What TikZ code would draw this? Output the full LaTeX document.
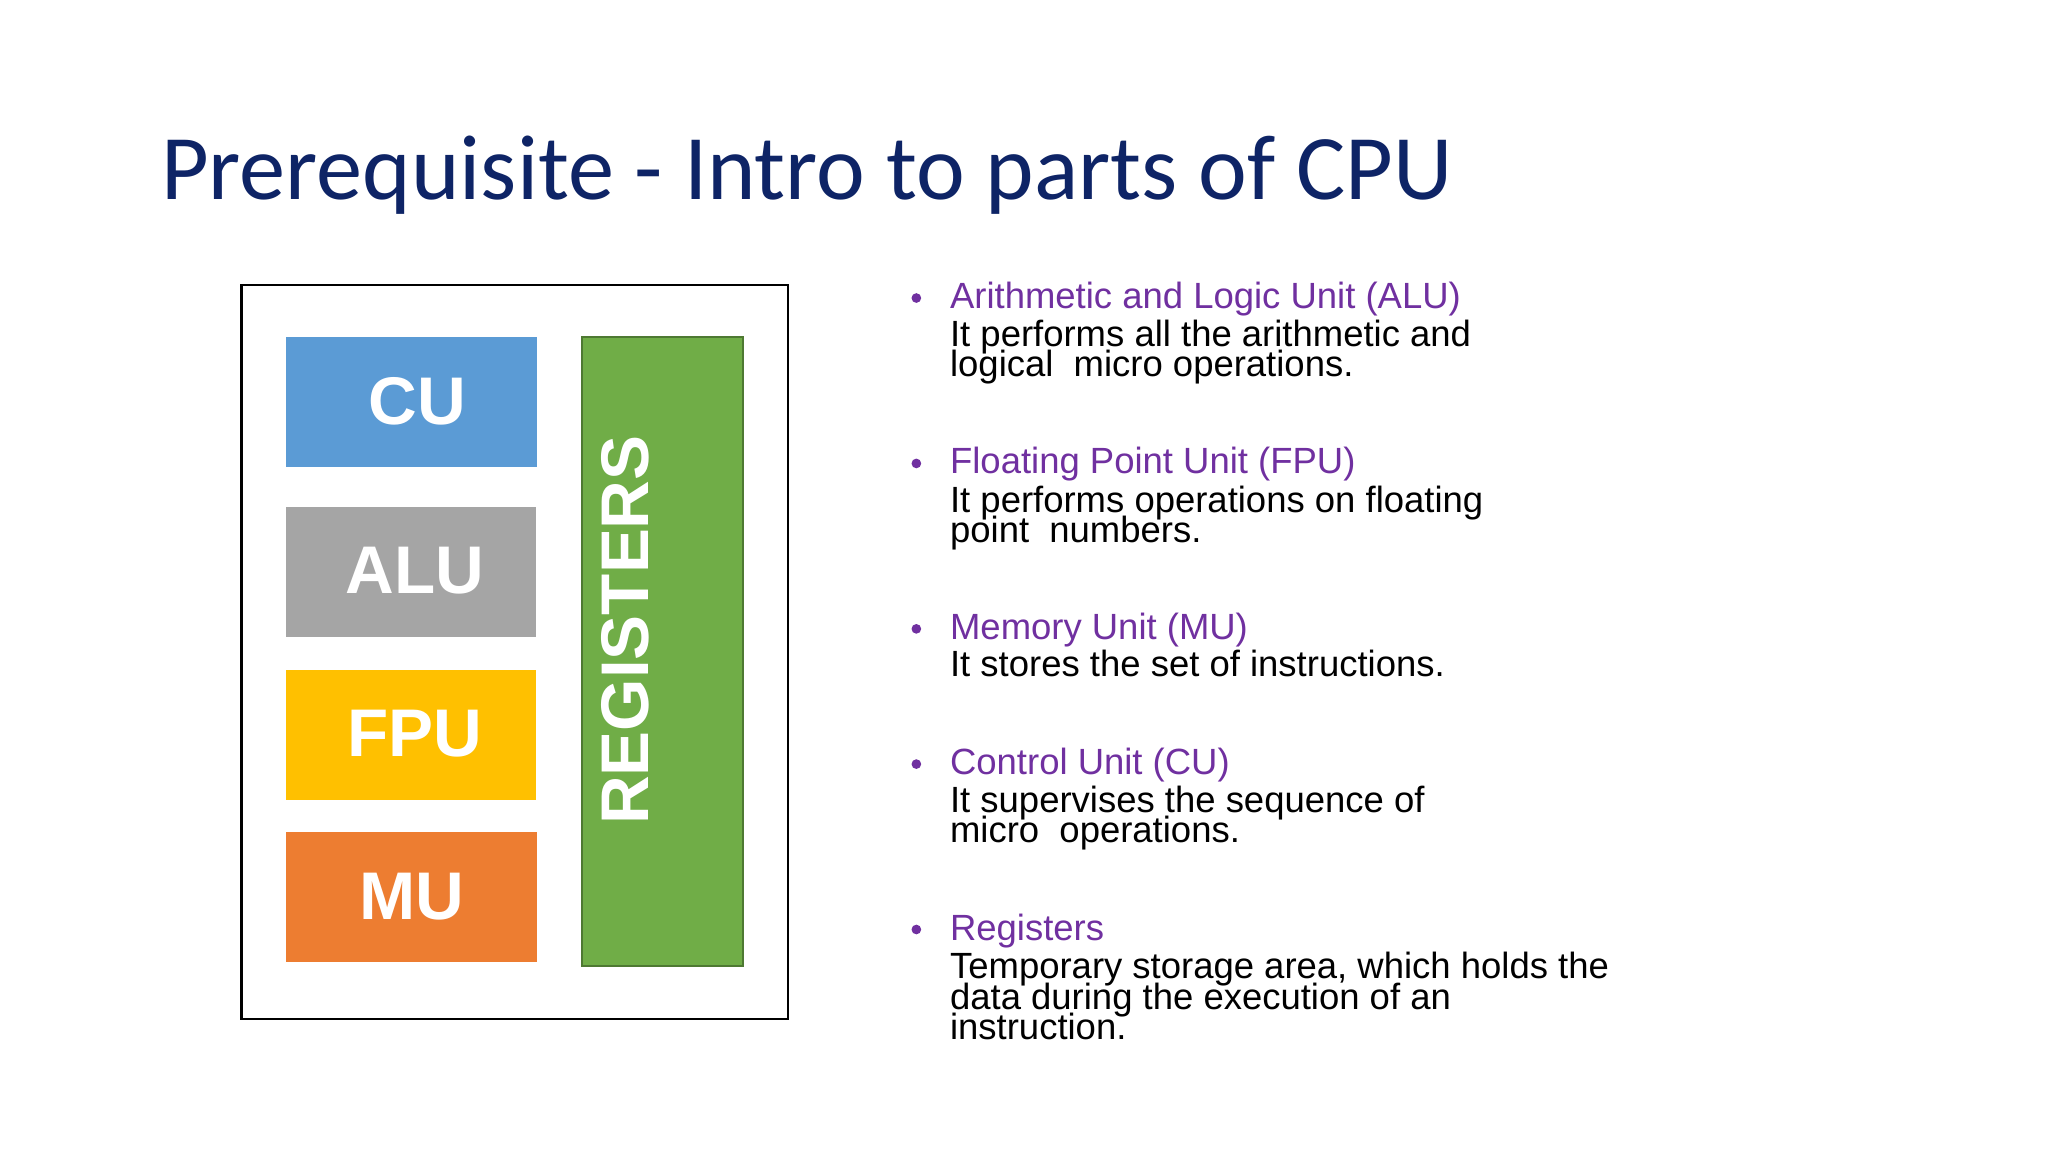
\documentclass[tikz,border=0pt]{standalone}
\usepackage{fontspec}
\setmainfont{Liberation Sans}
\newfontfamily\titlefont{Carlito}
\definecolor{navy}{HTML}{0E2466}
\definecolor{purp}{HTML}{7030A0}
\definecolor{cub}{HTML}{5B9BD5}
\definecolor{alug}{HTML}{A5A5A5}
\definecolor{fpuy}{HTML}{FFC000}
\definecolor{muo}{HTML}{ED7D31}
\definecolor{regg}{HTML}{70AD47}
\begin{document}
\begin{tikzpicture}[x=0.01cm,y=-0.01cm,
  unit/.style={font=\fontsize{14.6}{15}\selectfont\bfseries, text=white},
  hd/.style={anchor=base west, text=purp, font=\fontsize{7.9}{8}\selectfont, inner sep=0},
  bd/.style={anchor=base west, font=\fontsize{7.9}{8}\selectfont, inner sep=0},
  bul/.style={circle, fill=purp, inner sep=0, minimum size=2.1pt}]
\useasboundingbox (0,0) rectangle (1560,877.5);
\node[anchor=base west, inner sep=0, text=navy, font=\titlefont\fontsize{20}{21}\selectfont] (title) at (122,152) {Prerequisite - Intro to parts of CPU};
\draw[line width=0.5pt] (184,217) rectangle (600,776);
\fill[cub] (218,257) rectangle (409,356);
\fill[alug] (218,386) rectangle (408,485);
\fill[fpuy] (218,510) rectangle (408,609);
\fill[muo] (218,634) rectangle (409,733);
\filldraw[fill=regg, draw=regg!70!black, line width=0.4pt] (443,257) rectangle (566,736);
\node[unit] (cu) at (318,306) {CU};
\node[unit] (alu) at (316,435) {ALU};
\node[unit] (fpu) at (316,559) {FPU};
\node[unit] (mu) at (314,683) {MU};
\node[unit, rotate=90] (reg) at (476,480) {REGISTERS};
\foreach \y in {227,353,479,582,708} \node[bul] at (698,\y) {};
\node[hd] (h1) at (723,235) {Arithmetic and Logic Unit (ALU)};
\node[bd] at (723,264) {It performs all the arithmetic and};
\node[bd] at (723,287) {logical\ \ micro operations.};
\node[hd] (h2) at (723,361) {Floating Point Unit (FPU)};
\node[bd] at (723,390) {It performs operations on floating};
\node[bd] at (723,413) {point\ \ numbers.};
\node[hd] (h3) at (723,487) {Memory Unit (MU)};
\node[bd] at (723,515) {It stores the set of instructions.};
\node[hd] (h4) at (723,590) {Control Unit (CU)};
\node[bd] at (723,619) {It supervises the sequence of};
\node[bd] at (723,642) {micro\ \ operations.};
\node[hd] (h5) at (723,716) {Registers};
\node[bd] at (723,745) {Temporary storage area, which holds the};
\node[bd] at (723,769) {data during the execution of an};
\node[bd] at (723,792) {instruction.};
\end{tikzpicture}
\end{document}
